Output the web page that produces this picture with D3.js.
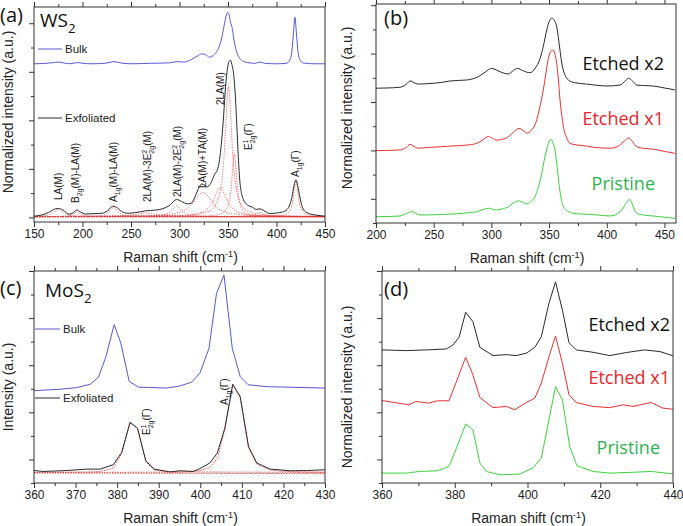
<!DOCTYPE html>
<html><head><meta charset="utf-8">
<script src="https://cdn.jsdelivr.net/npm/d3@7"></script>
<style>body{margin:0;background:#fff}</style>
</head><body><svg id="c" width="683" height="526"></svg>
<script>
// ---------- Panel (a) WS2 ----------
const wsBulk = [[150,6.33],[160,6.34],[170,6.38],[175,6.40],[180,6.37],[187,6.33],[195,6.38],[200,6.35],[210,6.33],[225,6.36],[232,6.42],[240,6.36],[250,6.33],[270,6.35],[290,6.37],[297,6.42],[305,6.40],[312,6.50],[318,6.64],[323,6.74],[327,6.70],[331,6.60],[336,6.72],[340,6.95],[343,7.3],[346,7.9],[348,8.3],[349.5,8.45],[351,8.35],[352.5,8.05],[354.4,7.79],[356,7.35],[358,6.95],[361,6.62],[365,6.45],[370,6.38],[378,6.35],[383,6.40],[388,6.35],[400,6.33],[410,6.35],[414,6.5],[416,6.9],[417.5,7.6],[419,8.25],[420.5,7.6],[422,6.9],[424,6.5],[428,6.36],[440,6.33],[450,6.33]];
const wsExf = [[150,0.05],[158,0.10],[165,0.20],[170,0.32],[175,0.37],[180,0.30],[186,0.13],[190,0.18],[194,0.30],[198,0.22],[203,0.14],[210,0.15],[220,0.17],[226,0.28],[231,0.46],[235,0.42],[240,0.25],[247,0.17],[255,0.20],[265,0.27],[275,0.30],[283,0.36],[290,0.50],[297,0.74],[302,0.66],[308,0.56],[312,0.58],[316,0.85],[320,1.22],[323,1.38],[326,1.32],[328.5,1.25],[332,1.40],[336,1.75],[340,2.09],[343.5,3.19],[345.5,4.2],[347.5,5.4],[349.5,6.15],[351,6.42],[352.5,6.48],[354,6.3],[355.5,6.0],[357.2,5.25],[359,3.88],[360.6,2.5],[362.4,1.41],[364,0.98],[366,0.72],[370,0.52],[375,0.42],[379,0.33],[383,0.35],[387,0.28],[393,0.16],[400,0.18],[406,0.22],[411,0.33],[414,0.55],[416,0.85],[418,1.30],[420,1.55],[422,1.28],[424,0.85],[426,0.50],[429,0.26],[434,0.15],[440,0.10],[450,0.05]];
// Lorentzian fit components (dotted red)
const fitLA = [[150,0.046],[160,0.071],[163,0.09],[166,0.122],[169,0.18],[172,0.27],[175,0.33],[178,0.27],[181,0.18],[184,0.122],[187,0.09],[193,0.06],[205,0.042],[235,0.033],[450,0.03]];
const fitB2g = [[150,0.031],[174,0.038],[182,0.05],[186,0.07],[188,0.092],[190,0.13],[192,0.19],[194,0.23],[196,0.19],[198,0.13],[200,0.092],[202,0.07],[206,0.05],[214,0.038],[234,0.032],[450,0.03]];
const fitA1gLA = [[150,0.032],[207,0.045],[217,0.068],[222,0.106],[224.5,0.147],[227,0.22],[229.5,0.334],[232,0.41],[234.5,0.334],[237,0.22],[239.5,0.147],[242,0.106],[247,0.068],[257,0.045],[282,0.034],[450,0.031]];
const fit3E = [[150,0.035],[195,0.036],[223,0.045],[237,0.06],[244,0.076],[251,0.105],[258,0.15],[265,0.18],[272,0.15],[279,0.105],[286,0.076],[293,0.06],[307,0.045],[335,0.036],[405,0.031],[450,0.031]];
const fit2E = [[150,0.032],[267,0.047],[279,0.075],[285,0.12],[288,0.169],[291,0.255],[294,0.39],[297,0.48],[300,0.39],[303,0.255],[306,0.169],[309,0.12],[315,0.075],[327,0.047],[357,0.035],[450,0.031]];
const fitLATA = [[150,0.034],[269,0.07],[291,0.135],[302,0.24],[307.5,0.353],[313,0.555],[318.5,0.87],[324,1.02],[329.5,0.87],[335,0.555],[340.5,0.353],[346,0.24],[357,0.135],[379,0.07],[434,0.04],[450,0.038]];
const fitBroad = [[150,0.032],[302,0.076],[318,0.15],[326,0.27],[330,0.4],[334,0.63],[338,0.99],[342,1.23],[346,0.99],[350,0.63],[354,0.4],[358,0.27],[366,0.15],[382,0.076],[422,0.042],[450,0.037]];
const fit2LA = [[150,0.032],[300.5,0.067],[329.5,0.238],[338,0.57],[342.1,1.11],[344.2,1.69],[346.3,2.73],[348.4,4.35],[350.5,5.43],[352.6,4.35],[354.7,2.73],[356.8,1.69],[358.9,1.11],[363.1,0.57],[371.5,0.238],[400.5,0.067],[450,0.037]];
const fitE2g = [[150,0.03],[326.5,0.056],[341.5,0.13],[347.5,0.29],[350.5,0.55],[352,0.83],[353.5,1.33],[355,2.11],[356.5,2.63],[358,2.11],[359.5,1.33],[361,0.83],[362.5,0.55],[365.5,0.29],[371.5,0.13],[386.5,0.056],[450,0.035]];
const fit383 = [[150,0.03],[358,0.037],[368,0.048],[373,0.066],[375.5,0.085],[378,0.12],[380.5,0.174],[383,0.21],[385.5,0.174],[388,0.12],[390.5,0.085],[393,0.066],[398,0.048],[408,0.037],[450,0.031]];
const fitA1g = [[150,0.03],[392,0.045],[406,0.087],[411.6,0.178],[414.4,0.326],[415.8,0.486],[417.2,0.77],[418.6,1.21],[420,1.51],[421.4,1.21],[422.8,0.77],[424.2,0.486],[425.6,0.326],[428.4,0.178],[434,0.087],[448,0.045],[450,0.044]];
const fitBase = [[150,0.02],[450,0.02]];

// ---------- Panel (b) WS2 etching ----------
const wsEt2 = [[200,5.57],[210,5.58],[220.8,5.61],[226,5.72],[229.5,5.87],[233,5.80],[236.7,5.74],[245,5.76],[255.5,5.80],[264.2,5.87],[278.6,5.91],[288.7,6.05],[295,6.25],[300.3,6.39],[304,6.33],[307.5,6.25],[314.7,6.16],[319,6.30],[322.8,6.39],[327,6.30],[333.5,6.21],[338,6.40],[342.2,6.80],[345,7.3],[348,7.98],[350.3,8.35],[352.3,8.46],[354.5,8.38],[356.6,8.11],[358.5,7.5],[361,6.60],[363.5,6.15],[366.7,5.91],[372,5.80],[382.6,5.74],[390,5.70],[400,5.66],[411.5,5.70],[415,5.82],[419,5.98],[422.5,5.85],[426,5.70],[433,5.68],[440.3,5.66],[450,5.58],[459.1,5.50]];
const wsEt1 = [[200,2.99],[210,3.0],[220.8,3.02],[226,3.12],[229.5,3.25],[233,3.16],[236.7,3.09],[245,3.12],[255.5,3.15],[265,3.18],[278.6,3.22],[287.3,3.29],[292,3.42],[297.4,3.57],[301,3.50],[304.6,3.43],[309,3.45],[313.3,3.52],[318,3.70],[324,3.91],[327.5,3.82],[330.6,3.71],[335,3.85],[339.3,4.26],[342,4.8],[345,5.50],[347.3,6.2],[349.4,6.80],[351.3,7.08],[353.2,7.15],[355,7.0],[356.6,6.60],[358,5.95],[359.5,5.08],[361,4.45],[362.4,3.98],[365,3.55],[368.2,3.29],[375,3.22],[382.6,3.18],[390,3.12],[402.9,3.09],[409,3.15],[413,3.29],[416,3.42],[419,3.52],[422.5,3.35],[426,3.15],[433,3.08],[440.3,3.05],[450,2.96],[459.1,2.88]];
const wsPri = [[200,0.26],[210,0.27],[220.8,0.29],[226,0.38],[231,0.47],[235,0.39],[238.1,0.33],[250,0.34],[261.2,0.36],[275,0.40],[287.3,0.47],[293,0.56],[297.4,0.61],[301,0.57],[304.6,0.54],[309,0.58],[314.7,0.67],[319,0.82],[323.4,0.92],[327,0.86],[330,0.79],[334,0.88],[337.8,1.09],[340.5,1.45],[343.6,2.05],[346,2.65],[347.9,3.02],[349.8,3.35],[351.4,3.46],[353.3,3.32],[355.1,3.02],[357,2.3],[358.9,1.50],[360.6,1.0],[362.4,0.67],[366,0.50],[371,0.40],[378,0.37],[384,0.36],[392,0.33],[402.9,0.29],[408,0.35],[413,0.54],[416.5,0.80],[419.6,0.98],[422,0.80],[424,0.55],[426,0.40],[432,0.33],[440.3,0.29],[450,0.24],[459.1,0.19]];

// ---------- Panel (c) MoS2 ----------
const moBulk = [[360,3.92],[366.3,3.98],[370.3,4.05],[373.5,4.19],[375.5,4.49],[377.3,5.36],[379.3,6.73],[380.9,5.93],[382.9,4.31],[385.1,4.07],[391.9,4.03],[395.1,4.12],[397.9,4.28],[399.9,4.66],[402.1,5.72],[403.9,8.05],[405.7,8.83],[407.7,5.72],[409.6,4.52],[411.5,4.17],[416,4.09],[430,4.03]];
const moExf = [[360,0.53],[362.2,0.49],[367.9,0.53],[372.7,0.59],[375.9,0.59],[379.1,0.78],[381.1,1.30],[383.1,2.58],[384.9,2.33],[386.9,0.94],[388.9,0.59],[392.7,0.47],[395.1,0.52],[398.3,0.49],[399.9,0.61],[402.3,0.85],[404.1,1.27],[405.9,2.33],[407.8,4.19],[409.6,3.67],[411.6,1.55],[413.6,0.85],[416.8,0.59],[421.6,0.52],[425.6,0.53],[430,0.56]];
const moFitE = [[360,0.45],[372.7,0.46],[375.9,0.49],[379.1,0.63],[381.1,1.25],[383.1,2.56],[384.9,2.30],[386.9,0.90],[388.9,0.55],[392.7,0.47],[430,0.45]];
const moFitA = [[360,0.45],[395.1,0.46],[399.9,0.52],[402.3,0.66],[404.1,1.05],[405.9,2.25],[407.8,4.15],[409.6,3.62],[411.6,1.48],[413.6,0.80],[416.8,0.55],[421.6,0.48],[430,0.46]];
const moFitBase = [[360,0.42],[430,0.40]];

// ---------- Panel (d) MoS2 etching ----------
const moEt2 = [[360,5.65],[366.7,5.62],[372.2,5.65],[377.7,5.69],[379.5,5.86],[381.2,6.19],[383,7.25],[385,6.85],[386.9,5.76],[390.5,5.41],[394.2,5.45],[396.9,5.41],[399.7,5.51],[402,5.76],[403.8,6.21],[405.9,7.63],[407.7,8.54],[409.6,7.34],[411.4,5.96],[413.4,5.65],[418,5.55],[422.6,5.41],[427.2,5.54],[432.2,5.65],[436.4,5.58],[440,5.40]];
const moEt1 = [[360,3.50],[363.3,3.42],[367.4,3.32],[369.3,3.46],[372.9,3.39],[375.2,3.49],[378.4,3.49],[380.3,4.24],[383,5.34],[385,4.59],[386.9,3.63],[390.5,3.20],[394.2,3.25],[396.5,3.11],[399.7,3.42],[402,3.60],[403.8,4.24],[405.9,5.36],[407.7,6.24],[409.6,5.08],[411.4,3.75],[413.4,3.42],[418,3.25],[422.6,3.20],[426.3,3.32],[429,3.25],[434,3.42],[437.2,3.18],[440,3.13]];
const moPri = [[360,0.42],[366.7,0.42],[370.3,0.49],[375.4,0.52],[378.4,0.70],[380.3,1.41],[383,2.50],[385,2.26],[386.9,0.85],[388.7,0.49],[392.4,0.35],[397.9,0.38],[401.5,0.64],[403.8,1.06],[405.9,2.68],[407.7,4.09],[409.6,3.53],[411.6,1.55],[413.6,0.73],[418,0.49],[422.6,0.42],[428.1,0.45],[434,0.49],[440,0.39]];

// tick values
const ticksA = [150,200,250,300,350,400,450];
const ticksB = [200,250,300,350,400,450];
const ticksC = [360,370,380,390,400,410,420,430];
const ticksD = [360,380,400,420,440];

const BLUE = "#5757d9", BLACK = "#2a2a2a", RED = "#e8302f", GREEN = "#3bd23b";
const AX = "#333";
const AXFONT = "'Liberation Sans', Arial, sans-serif";
const BIGFONT = "'Open Sans', 'DejaVu Sans', sans-serif";

const svg = d3.select("#c");

function panel(cfg){
  const x = d3.scaleLinear().domain(cfg.xd).range([cfg.l, cfg.r]);
  const y = d3.scaleLinear().domain(cfg.yd).range([cfg.b, cfg.t]);
  const g = svg.append("g");
  const cid = "clip" + cfg.id;
  svg.append("clipPath").attr("id", cid).append("rect")
    .attr("x", cfg.l).attr("y", cfg.t).attr("width", cfg.r - cfg.l).attr("height", cfg.b - cfg.t);
  const lines = g.append("g").attr("clip-path", `url(#${cid})`);
  cfg.series.forEach(s => {
    const ln = d3.line().x(d => x(d[0])).y(d => y(d[1])).curve(s.curve || d3.curveLinear);
    lines.append("path").attr("d", ln(s.data)).attr("fill", "none")
      .attr("stroke", s.color).attr("stroke-width", s.w || 1)
      .attr("stroke-opacity", s.op || 1)
      .attr("stroke-dasharray", s.dash || null);
  });
  const minors = [];
  for (let v = cfg.xd[0]; v <= cfg.xd[1] + 1e-9; v += cfg.minor) {
    if (!cfg.xt.some(t => Math.abs(t - v) < 1e-6)) minors.push(v);
  }
  const axStyle = sel => { sel.select(".domain").remove(); sel.selectAll("line").attr("stroke", AX); };
  g.append("g").attr("transform", `translate(0,${cfg.b})`)
    .call(d3.axisBottom(x).tickValues(cfg.xt).tickSize(5).tickPadding(2))
    .call(axStyle)
    .call(s => s.selectAll("text").attr("font-family", AXFONT).attr("font-size", 12).attr("fill", "#222"));
  g.append("g").attr("transform", `translate(0,${cfg.b})`)
    .call(d3.axisBottom(x).tickValues(minors).tickSize(3).tickFormat(""))
    .call(axStyle);
  g.append("g").attr("transform", `translate(0,${cfg.t})`)
    .call(d3.axisTop(x).tickValues(cfg.xt).tickSize(5).tickFormat("")).call(axStyle);
  g.append("g").attr("transform", `translate(0,${cfg.t})`)
    .call(d3.axisTop(x).tickValues(minors).tickSize(3).tickFormat("")).call(axStyle);
  const yMaj = cfg.yt.filter((v, i) => i % 2 === cfg.yMajOdd);
  const yMin = cfg.yt.filter((v, i) => i % 2 !== cfg.yMajOdd);
  g.append("g").attr("transform", `translate(${cfg.l},0)`)
    .call(d3.axisLeft(y).tickValues(yMaj).tickSize(5).tickFormat("")).call(axStyle);
  g.append("g").attr("transform", `translate(${cfg.l},0)`)
    .call(d3.axisLeft(y).tickValues(yMin).tickSize(3).tickFormat("")).call(axStyle);
  g.append("rect").attr("x", cfg.l).attr("y", cfg.t).attr("width", cfg.r - cfg.l).attr("height", cfg.b - cfg.t)
    .attr("fill", "none").attr("stroke", AX).attr("stroke-width", 1);
  const xt = g.append("text").attr("x", (cfg.l + cfg.r) / 2 + 1).attr("y", cfg.b + 40)
    .attr("text-anchor", "middle").attr("font-family", AXFONT).attr("font-size", 14).attr("fill", "#222");
  xt.append("tspan").text("Raman shift (cm");
  xt.append("tspan").attr("dy", -5).attr("font-size", 9).text("-1");
  xt.append("tspan").attr("dy", 5).text(")");
  g.append("text").attr("transform", `translate(${cfg.ytx},${cfg.yty}) rotate(-90)`)
    .attr("text-anchor", "middle").attr("font-family", AXFONT).attr("font-size", 14).attr("fill", "#222")
    .text(cfg.ytitle);
  return {x, y, g};
}

// rich text with sub / sup parts
function rich(sel, parts, fs){
  let off = 0;
  parts.forEach(p => {
    if (typeof p === "string") {
      sel.append("tspan").attr("dy", -off).text(p); off = 0;
    } else {
      const [kind, t] = p;
      const target = kind === "sup" ? -0.38 * fs : 0.3 * fs;
      const ts = sel.append("tspan").attr("dy", target - off).attr("font-size", fs * 0.7).text(t);
      if (kind === "substack") ts.attr("dx", -fs * 0.7 * 0.56);
      off = target;
    }
  });
}

function vlabel(g, x, y, parts, fs, color){
  const t = g.append("text").attr("transform", `translate(${x},${y}) rotate(-90)`)
    .attr("font-family", AXFONT).attr("font-size", fs).attr("fill", color || "#222");
  rich(t, parts, fs);
}

function bigLabel(x, y, parts, fs, color, anchor){
  const t = svg.append("text").attr("x", x).attr("y", y).attr("font-family", BIGFONT)
    .attr("font-size", fs).attr("fill", color || "#111").attr("text-anchor", anchor || "start");
  rich(t, parts, fs);
}

const mono = d3.curveMonotoneX;
const dotted = "1.3,1.3";
const fits = [fitBase, fitLA, fitB2g, fitA1gLA, fit3E, fit2E, fitLATA, fitBroad, fit2LA, fitE2g, fit383, fitA1g];

const pa = panel({id: "a", l: 34, r: 325, t: 7, b: 222, xd: [150, 450], yd: [-0.19, 8.67],
  xt: ticksA, minor: 25, yt: d3.range(0, 9), yMajOdd: 0,
  ytitle: "Normalized intensity (a.u.)", ytx: 13, yty: 112,
  series: [
    ...fits.map(f => ({data: f, color: RED, dash: dotted, w: 0.8, op: 0.85, curve: mono})),
    {data: wsBulk, color: BLUE, curve: mono},
    {data: wsExf, color: BLACK, curve: mono}
  ]});
const pb = panel({id: "b", l: 376, r: 676, t: 4, b: 223, xd: [200, 460], yd: [0, 9.05],
  xt: ticksB, minor: 25, yt: d3.range(0, 10), yMajOdd: 1,
  ytitle: "Normalized intensity (a.u.)", ytx: 352, yty: 108,
  series: [
    {data: wsEt2, color: BLACK, curve: mono},
    {data: wsEt1, color: RED, curve: mono},
    {data: wsPri, color: GREEN, curve: mono}
  ]});
const pc = panel({id: "c", l: 34, r: 325, t: 271, b: 483, xd: [360, 430], yd: [0, 9],
  xt: ticksC, minor: 5, yt: d3.range(0, 10), yMajOdd: 1,
  ytitle: "Intensity (a.u.)", ytx: 13, yty: 387,
  series: [
    {data: moFitBase, color: RED, dash: dotted, w: 0.9},
    {data: moFitE, color: RED, dash: dotted, w: 0.9},
    {data: moFitA, color: RED, dash: dotted, w: 0.9},
    {data: moBulk, color: BLUE},
    {data: moExf, color: BLACK}
  ]});
const pd = panel({id: "d", l: 382, r: 673, t: 271, b: 483, xd: [360, 440], yd: [0, 9],
  xt: ticksD, minor: 10, yt: d3.range(0, 10), yMajOdd: 1,
  ytitle: "Normalized intensity (a.u.)", ytx: 352, yty: 387,
  series: [
    {data: moEt2, color: BLACK},
    {data: moEt1, color: RED},
    {data: moPri, color: GREEN}
  ]});

function legend(g, x1, x2, y, color, label){
  g.append("line").attr("x1", x1).attr("x2", x2).attr("y1", y).attr("y2", y).attr("stroke", color);
  g.append("text").attr("x", x2 + 3).attr("y", y + 4).attr("font-family", AXFONT).attr("font-size", 11.5)
    .attr("fill", "#222").text(label);
}
legend(pa.g, 38, 62, 49, BLUE, "Bulk");
legend(pa.g, 38, 62, 118, BLACK, "Exfoliated");
legend(pc.g, 35, 60, 329, BLUE, "Bulk");
legend(pc.g, 35, 60, 398, BLACK, "Exfoliated");

const fs = 10;
vlabel(pa.g, 62, 200, ["LA(M)"], fs);
vlabel(pa.g, 79, 203, ["B", ["sub", "2g"], "(M)-LA(M)"], fs);
vlabel(pa.g, 117, 202, ["A", ["sub", "1g"], "(M)-LA(M)"], fs);
vlabel(pa.g, 151, 202, ["2LA(M)-3E", ["sup", "2"], ["substack", "2g"], "(M)"], fs);
vlabel(pa.g, 181, 197, ["2LA(M)-2E", ["sup", "2"], ["substack", "2g"], "(M)"], fs);
vlabel(pa.g, 206, 188, ["LA(M)+TA(M)"], fs);
vlabel(pa.g, 224, 105, ["2LA(M)"], fs);
vlabel(pa.g, 252, 150, ["E", ["sup", "1"], ["substack", "2g"], "(\u0393)"], fs);
vlabel(pa.g, 299, 177, ["A", ["sub", "1g"], "(\u0393)"], fs);
vlabel(pc.g, 150, 435, ["E", ["sup", "1"], ["substack", "2g"], "(\u0393)"], fs);
vlabel(pc.g, 228, 405, ["A", ["sub", "1g"], "(\u0393)"], fs);

bigLabel(0, 22, ["(a)"], 20);
bigLabel(40, 27, ["WS", ["sub", "2"]], 19);
bigLabel(384, 25, ["(b)"], 20);
bigLabel(0, 295, ["(c)"], 20);
bigLabel(45, 297, ["MoS", ["sub", "2"]], 19);
bigLabel(384, 296, ["(d)"], 20);
bigLabel(664, 70, ["Etched x2"], 18, "#111", "end");
bigLabel(664, 125, ["Etched x1"], 18, "#e8262c", "end");
bigLabel(655, 190, ["Pristine"], 18, "#2fb34f", "end");
bigLabel(670, 331, ["Etched x2"], 18, "#111", "end");
bigLabel(670, 384, ["Etched x1"], 18, "#e8262c", "end");
bigLabel(660, 454, ["Pristine"], 18, "#2fb34f", "end");
</script></body></html>
